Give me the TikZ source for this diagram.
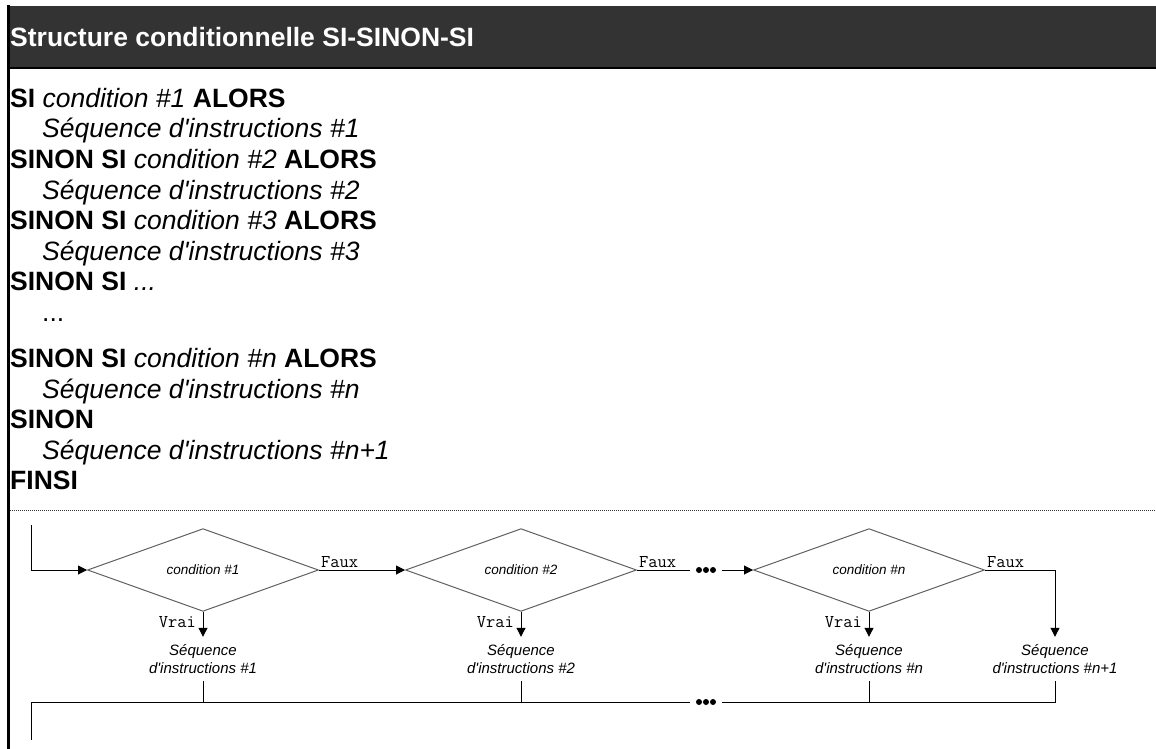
\documentclass[tikz,border=0pt]{standalone}
\usepackage{fontspec}
\setmainfont{Liberation Sans}
\usetikzlibrary{arrows.meta,shapes.geometric,positioning}
\definecolor{headgray}{HTML}{333333}
\definecolor{linegray}{HTML}{606060}
\newcommand{\kw}[1]{\textbf{#1}}
\newcommand{\cnd}[1]{\textit{#1}}
\newcommand{\apos}{\textquotesingle}

\begin{document}
\begin{tikzpicture}[x=1pt,y=-1pt,
  code/.style={anchor=base west,inner sep=0,font=\fontsize{26.5}{30}\selectfont},
  cond/.style={diamond,draw=linegray,line width=1,minimum width=231,minimum height=71,inner sep=0,font=\fontsize{13.5}{16}\selectfont\itshape},
  seq/.style={align=center,inner sep=0,minimum height=44,font=\fontsize{15}{18}\selectfont\itshape},
  gap/.style={minimum width=32,minimum height=6,inner sep=0},
  lbl/.style={inner sep=1.5,font=\fontsize{18}{20}\selectfont\ttfamily},
  link/.style={line width=1},
  flow/.style={line width=1,-{Triangle[length=9pt,width=9pt]}}]
  \useasboundingbox (0,0) rectangle (1156,749);
  % --- header
  \fill[headgray] (8,6) rectangle (1156,68);
  \draw[line width=2] (8,68) -- (1156,68);
  \draw[line width=3] (8.5,5) -- (8.5,749);
  \node[code,text=white,font=\fontsize{26.5}{30}\selectfont\bfseries] (title) at (10,47) {Structure conditionnelle SI-SINON-SI};
  % --- pseudo-code
  \foreach \txt/\ind/\y [count=\i from 0] in {
    {\kw{SI} \cnd{condition \#1} \kw{ALORS}}/0/98,
    {\cnd{Séquence d\apos instructions \#1}}/1/128.5,
    {\kw{SINON SI} \cnd{condition \#2} \kw{ALORS}}/0/159,
    {\cnd{Séquence d\apos instructions \#2}}/1/189.5,
    {\kw{SINON SI} \cnd{condition \#3} \kw{ALORS}}/0/220,
    {\cnd{Séquence d\apos instructions \#3}}/1/250.5,
    {\kw{SINON SI} \cnd{...}}/0/281,
    {...}/1/311.5,
    {\kw{SINON SI} \cnd{condition \#n} \kw{ALORS}}/0/358,
    {\cnd{Séquence d\apos instructions \#n}}/1/388.5,
    {\kw{SINON}}/0/419,
    {\cnd{Séquence d\apos instructions \#n+1}}/1/449.5,
    {\kw{FINSI}}/0/480}
    \node[code] (l\i) at (10+32*\ind,\y+9.5) {\txt};
  \draw[densely dotted,line width=1,black!80] (10,510) -- (1156,510);
  % --- flowchart
  \coordinate (in) at (31,525);
  \node[cond] (c1) at (203,570) {condition \#1};
  \node[cond] (c2) at (521,570) {condition \#2};
  \node[gap] (g1) at (706,570) {};
  \node[cond] (cn) at (869,570) {condition \#n};
  \node[seq] (s1) at (203,659) {Séquence\\d\apos instructions \#1};
  \node[seq] (s2) at (521,659) {Séquence\\d\apos instructions \#2};
  \node[seq] (sn) at (869,659) {Séquence\\d\apos instructions \#n};
  \node[seq] (sn1) at (1055,659) {Séquence\\d\apos instructions \#n+1};
  \node[gap] (g2) at (706,702) {};
  \coordinate (out) at (31,740);
  \draw[flow] (in) |- (c1.west);
  \draw[flow] (c1.east) -- node[lbl,pos=0,anchor=south west] {Faux} (c2.west);
  \draw[link] (c2.east) -- node[lbl,pos=0,anchor=south west] {Faux} (g1.west);
  \draw[flow] (g1.east) -- (cn.west);
  \draw[flow] (cn.east) -| node[lbl,pos=0,anchor=south west] {Faux} (sn1.north);
  \foreach \c/\s in {c1/s1,c2/s2,cn/sn}
    \draw[flow] (\c.south) -- node[lbl,pos=0.4,left=5pt] {Vrai} (\s.north);
  \draw[link] (out) |- (g2.west);
  \draw[link] (g2.east) -| (sn1.south);
  \foreach \s in {s1,s2,sn} \draw[link] (\s.south) -- (\s.south |- g2);
  \foreach \g in {g1,g2} \foreach \k in {-7,0,7} \fill ([xshift=\k]\g) circle (3);
\end{tikzpicture}
\end{document}
